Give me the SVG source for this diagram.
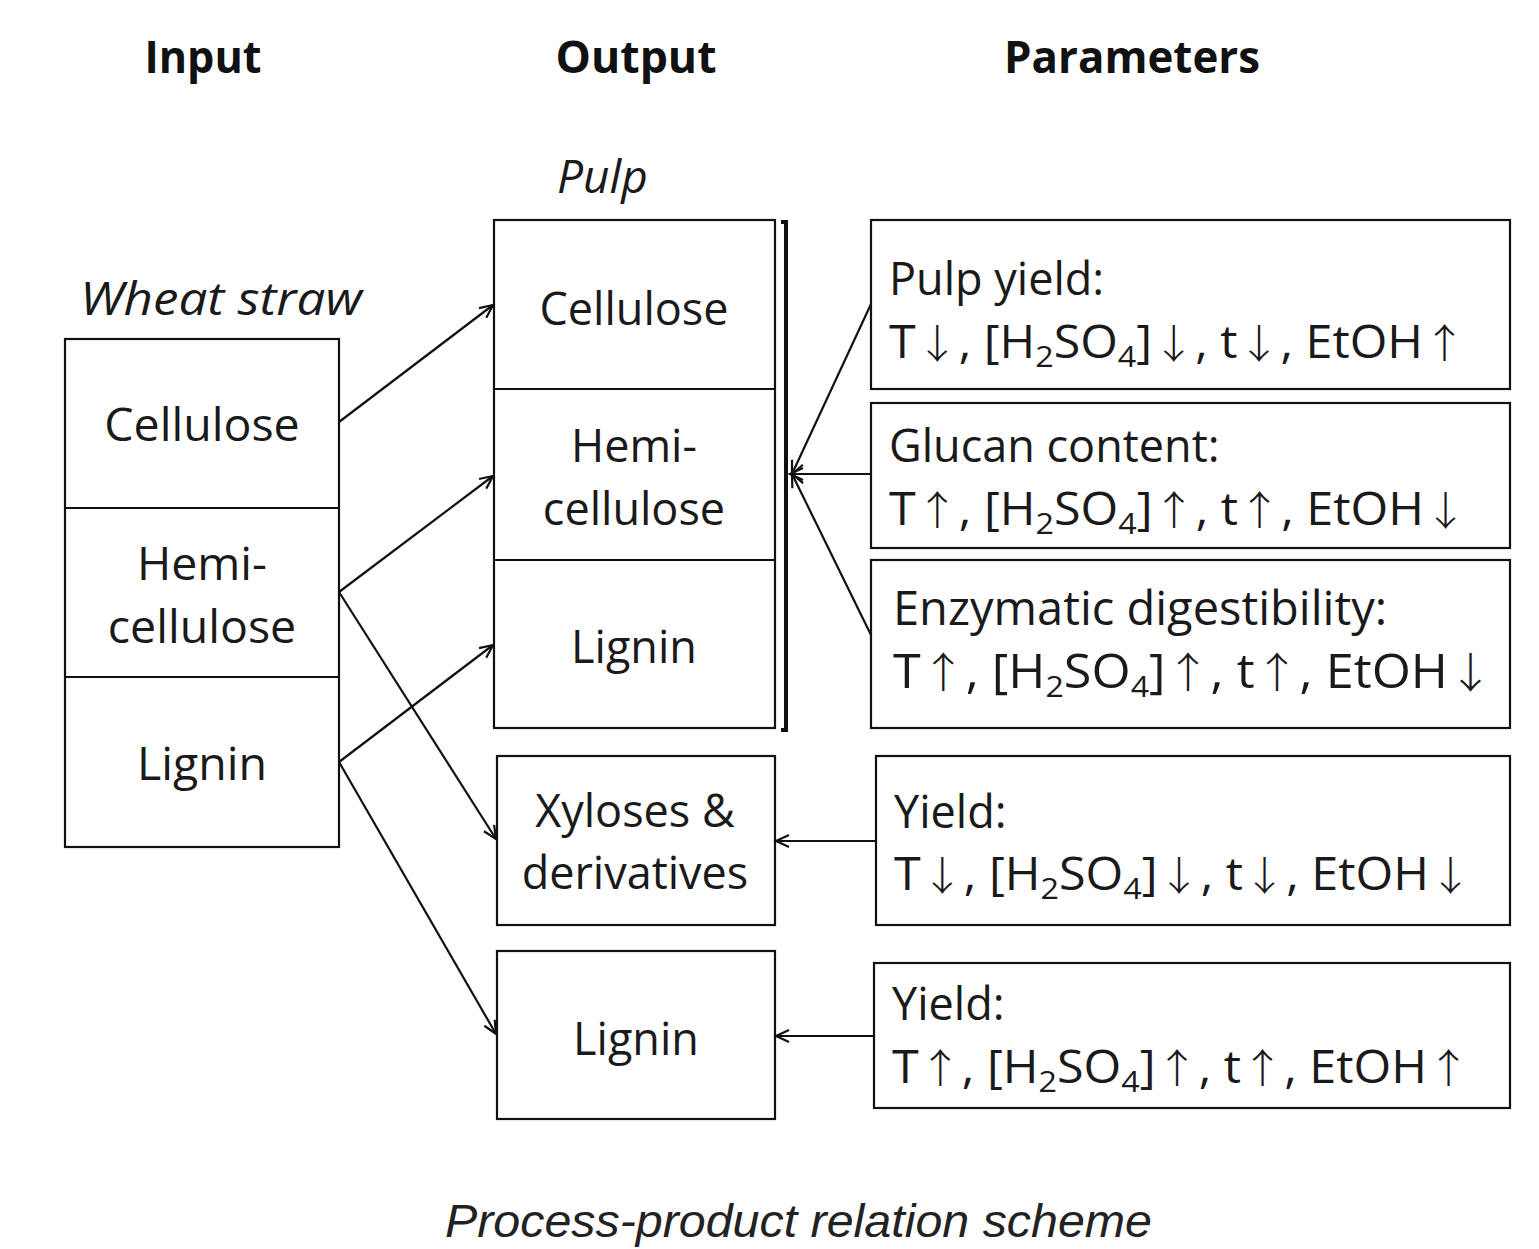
<svg xmlns="http://www.w3.org/2000/svg" width="1539" height="1249" viewBox="0 0 1539 1249">
<style>
.box{fill:#fff;stroke:#111;stroke-width:2.2}
.div{stroke:#111;stroke-width:2.2}
.t{font-family:"Open Sans","Liberation Sans",sans-serif;font-size:45px;fill:#1a1a1a}
.b{font-size:46.5px}
.c{text-anchor:middle}
.h{font-family:"Open Sans","Liberation Sans",sans-serif;font-weight:bold;font-size:44px;fill:#111;text-anchor:middle}
.it{font-style:italic}
.sub{font-size:30px}
.ar{font-family:"Noto Sans CJK SC","Noto Sans CJK JP",sans-serif;font-weight:300;font-size:40px}
.con{stroke:#111;stroke-width:2.2;fill:none}
.cap{font-family:"Liberation Sans",Arial,sans-serif;font-style:italic;font-size:46px;fill:#222}
</style>
<defs>
<marker id="ah" markerUnits="userSpaceOnUse" markerWidth="20" markerHeight="20" refX="14" refY="7" orient="auto">
<path d="M1,1 L14,7 L1,13" fill="none" stroke="#111" stroke-width="2.2"/>
</marker>
</defs>

<text class="h" x="203" y="73" textLength="117" lengthAdjust="spacingAndGlyphs">Input</text>
<text class="h" x="636" y="73" textLength="161" lengthAdjust="spacingAndGlyphs">Output</text>
<text class="h" x="1132" y="73" textLength="256" lengthAdjust="spacingAndGlyphs">Parameters</text>

<g id="input">
<text class="t it" x="80" y="315" textLength="282" lengthAdjust="spacingAndGlyphs">Wheat straw</text>
<rect class="box" x="65" y="339" width="274" height="508"/>
<line class="div" x1="65" y1="508" x2="339" y2="508"/>
<line class="div" x1="65" y1="677" x2="339" y2="677"/>
<text class="t b c" x="202" y="441">Cellulose</text>
<text class="t b c" x="202" y="580">Hemi-</text>
<text class="t b c" x="202" y="643">cellulose</text>
<text class="t b c" x="202" y="780">Lignin</text>
</g>

<g id="pulp">
<text class="t it" x="557" y="193" style="font-size:46px">Pulp</text>
<rect class="box" x="494" y="220" width="281" height="508"/>
<line class="div" x1="494" y1="389" x2="775" y2="389"/>
<line class="div" x1="494" y1="560" x2="775" y2="560"/>
<text class="t c" x="634" y="325">Cellulose</text>
<text class="t c" x="634" y="462">Hemi-</text>
<text class="t c" x="634" y="525">cellulose</text>
<text class="t c" x="634" y="663">Lignin</text>
<path d="M781,222 L786,222 L786,730 L781,730" fill="none" stroke="#111" stroke-width="4"/>
</g>

<g id="xyloses">
<rect class="box" x="497" y="756" width="278" height="169"/>
<text class="t c" x="635" y="827">Xyloses &amp;</text>
<text class="t c" x="635" y="889">derivatives</text>
</g>

<g id="lignin-out">
<rect class="box" x="497" y="951" width="278" height="168"/>
<text class="t c" x="636" y="1055">Lignin</text>
</g>

<g id="p1">
<rect class="box" x="871" y="220" width="639" height="169"/>
<text class="t" x="889" y="295">Pulp yield:</text>
<text class="t" x="889" y="358" textLength="577" lengthAdjust="spacingAndGlyphs">T<tspan class="ar">↓</tspan>, [H<tspan class="sub" dy="9">2</tspan><tspan dy="-9">SO</tspan><tspan class="sub" dy="9">4</tspan><tspan dy="-9">]</tspan><tspan class="ar">↓</tspan>, t<tspan class="ar">↓</tspan>, EtOH<tspan class="ar">↑</tspan></text>
</g>

<g id="p2">
<rect class="box" x="871" y="403" width="639" height="145"/>
<text class="t" x="889" y="462">Glucan content:</text>
<text class="t" x="889" y="525" textLength="578" lengthAdjust="spacingAndGlyphs">T<tspan class="ar">↑</tspan>, [H<tspan class="sub" dy="9">2</tspan><tspan dy="-9">SO</tspan><tspan class="sub" dy="9">4</tspan><tspan dy="-9">]</tspan><tspan class="ar">↑</tspan>, t<tspan class="ar">↑</tspan>, EtOH<tspan class="ar">↓</tspan></text>
</g>

<g id="p3">
<rect class="box" x="871" y="560" width="639" height="168"/>
<text class="t" x="893" y="625" style="font-size:47px">Enzymatic digestibility:</text>
<text class="t" x="893" y="688" style="font-size:47px" textLength="600" lengthAdjust="spacingAndGlyphs">T<tspan class="ar" style="font-size:42px">↑</tspan>, [H<tspan class="sub" dy="9">2</tspan><tspan dy="-9">SO</tspan><tspan class="sub" dy="9">4</tspan><tspan dy="-9">]</tspan><tspan class="ar" style="font-size:42px">↑</tspan>, t<tspan class="ar" style="font-size:42px">↑</tspan>, EtOH<tspan class="ar" style="font-size:42px">↓</tspan></text>
</g>

<g id="p4">
<rect class="box" x="876" y="756" width="634" height="169"/>
<text class="t" x="894" y="828">Yield:</text>
<text class="t" x="894" y="890" textLength="578" lengthAdjust="spacingAndGlyphs">T<tspan class="ar">↓</tspan>, [H<tspan class="sub" dy="9">2</tspan><tspan dy="-9">SO</tspan><tspan class="sub" dy="9">4</tspan><tspan dy="-9">]</tspan><tspan class="ar">↓</tspan>, t<tspan class="ar">↓</tspan>, EtOH<tspan class="ar">↓</tspan></text>
</g>

<g id="p5">
<rect class="box" x="874" y="963" width="636" height="145"/>
<text class="t" x="892" y="1020">Yield:</text>
<text class="t" x="892" y="1083" textLength="578" lengthAdjust="spacingAndGlyphs">T<tspan class="ar">↑</tspan>, [H<tspan class="sub" dy="9">2</tspan><tspan dy="-9">SO</tspan><tspan class="sub" dy="9">4</tspan><tspan dy="-9">]</tspan><tspan class="ar">↑</tspan>, t<tspan class="ar">↑</tspan>, EtOH<tspan class="ar">↑</tspan></text>
</g>

<g id="connectors">
<line class="con" x1="339" y1="422" x2="493" y2="305" marker-end="url(#ah)"/>
<line class="con" x1="339" y1="592" x2="493" y2="476" marker-end="url(#ah)"/>
<line class="con" x1="339" y1="592" x2="496" y2="839" marker-end="url(#ah)"/>
<line class="con" x1="339" y1="762" x2="493" y2="645" marker-end="url(#ah)"/>
<line class="con" x1="339" y1="762" x2="496" y2="1034" marker-end="url(#ah)"/>
<line class="con" x1="871" y1="304" x2="792" y2="474" marker-end="url(#ah)"/>
<line class="con" x1="871" y1="474" x2="790" y2="474" marker-end="url(#ah)"/>
<line class="con" x1="871" y1="635" x2="792" y2="474" marker-end="url(#ah)"/>
<line class="con" x1="876" y1="841" x2="776" y2="841" marker-end="url(#ah)"/>
<line class="con" x1="874" y1="1036" x2="776" y2="1036" marker-end="url(#ah)"/>
</g>

<text class="cap" x="445" y="1237" textLength="707" lengthAdjust="spacingAndGlyphs">Process-product relation scheme</text>
</svg>
